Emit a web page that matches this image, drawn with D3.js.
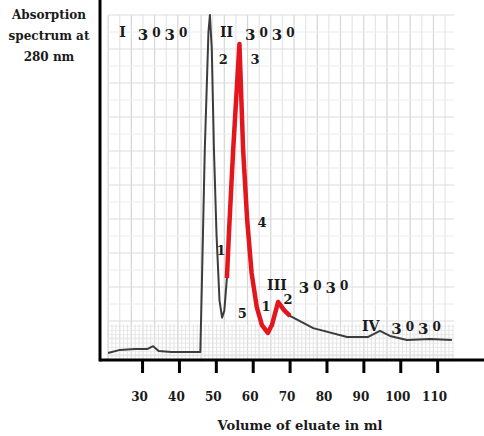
<!DOCTYPE html>
<html>
<head>
<meta charset="utf-8">
<script src="https://cdn.jsdelivr.net/npm/d3@7"></script>
<style>
  html, body { margin: 0; padding: 0; background: #fff; }
  svg { display: block; }
  .lbl { font-family: "DejaVu Serif", "Liberation Serif", serif; font-weight: bold; fill: #1a1a1a; }
</style>
</head>
<body>
<svg id="chart" width="484" height="436"></svg>
<script>
// Elution volume (ml) and absorbance at 280 nm, whole run
const eluateVolume = [20.8, 24, 28, 31.5, 33, 34.5, 38, 42, 45.8, 46.2, 47.0, 48.0, 48.4, 48.9, 49.5, 50.2, 51.0, 51.7, 52.3, 53.0,
  53.6, 54.7, 56.4, 57.4, 58.5, 59.7, 61.1, 62.5, 64.1, 65.2, 66.9, 68.5, 70.1, 76.4, 85.6, 91.3, 94.5, 97.2, 101.8, 108, 114];
const absorbance = [0.006, 0.015, 0.018, 0.018, 0.026, 0.012, 0.009, 0.009, 0.009, 0.2, 0.6, 0.95, 1.0, 0.9, 0.6, 0.35, 0.16, 0.11, 0.13, 0.226,
  0.368, 0.603, 0.915, 0.603, 0.397, 0.241, 0.141, 0.088, 0.065, 0.088, 0.156, 0.132, 0.115, 0.079, 0.053, 0.053, 0.071, 0.056, 0.044, 0.047, 0.044];

// Re-chromatographed fraction (peaks II–III)
const fractionVolume = [53.0, 53.6, 54.7, 56.4, 57.4, 58.5, 59.7, 61.1, 62.5, 64.1, 65.2, 66.9, 68.5, 70.1];
const fractionAbsorbance = [0.226, 0.368, 0.603, 0.915, 0.603, 0.397, 0.241, 0.141, 0.088, 0.065, 0.088, 0.156, 0.132, 0.115];

// Axis ticks
const xTicks = [30, 40, 50, 60, 70, 80, 90, 100, 110];

// Peak names (with sample code) and fraction numbers
const peakName = ["I", "II", "III", "IV"];
const peakCode = ["3030", "3030", "3030", "3030"];
const peakVolume = [23.8, 51.1, 63.9, 89.6];
const peakAbsorbance = [0.935, 0.935, 0.192, 0.071];

const fracText = ["2", "3", "4", "1", "5", "1", "2"];
const fracVolume = [52.0, 60.6, 62.5, 51.4, 57.2, 63.6, 69.6];
const fracAbsorbance = [0.856, 0.856, 0.376, 0.294, 0.109, 0.129, 0.150];

const svg = d3.select("#chart");

const x = d3.scaleLinear().domain([18.6, 122.7]).range([100, 484]);
const y = d3.scaleLinear().domain([0, 1]).range([355, 15]);

// recorder-paper grid
const grid = svg.append("g");
const gx0 = 20.8, gx1 = 114.6;
const vLines = d3.range(gx0, gx1 + 0.01, 3.15);
grid.selectAll("line.v").data(vLines).join("line")
  .attr("x1", d => x(d)).attr("x2", d => x(d))
  .attr("y1", y(1)).attr("y2", y(-0.02))
  .attr("stroke", (d, i) => i % 2 ? "#e6e6e6" : "#d6d6d6").attr("stroke-width", 1.2);
const hLines = d3.range(0, 1.001, 0.05);
grid.selectAll("line.h").data(hLines).join("line")
  .attr("x1", x(gx0)).attr("x2", x(gx1))
  .attr("y1", d => y(d)).attr("y2", d => y(d))
  .attr("stroke", (d, i) => i % 2 ? "#ececec" : "#dcdcdc").attr("stroke-width", 1);
// denser band near the baseline
const bandV = d3.range(gx0, gx1 + 0.01, 1.05);
grid.selectAll("line.bv").data(bandV).join("line")
  .attr("x1", d => x(d)).attr("x2", d => x(d))
  .attr("y1", y(0.09)).attr("y2", y(-0.02))
  .attr("stroke", "#dedede").attr("stroke-width", 0.8);
grid.selectAll("line.bh").data(d3.range(-0.015, 0.09, 0.0125)).join("line")
  .attr("x1", x(gx0)).attr("x2", x(gx1))
  .attr("y1", d => y(d)).attr("y2", d => y(d))
  .attr("stroke", "#e4e4e4").attr("stroke-width", 0.8);

// traces
const line = d3.line().x(d => x(d[0])).y(d => y(d[1]));
svg.append("path")
  .datum(eluateVolume.map((v, i) => [v, absorbance[i]]))
  .attr("d", line)
  .attr("fill", "none").attr("stroke", "#3c3c3c").attr("stroke-width", 2)
  .attr("stroke-linejoin", "round");
svg.append("path")
  .datum(fractionVolume.map((v, i) => [v, fractionAbsorbance[i]]))
  .attr("d", line)
  .attr("fill", "none").attr("stroke", "#e3161e").attr("stroke-width", 4.5)
  .attr("stroke-linejoin", "round");

// axes
const xAxis = svg.append("g").attr("transform", "translate(0,360)")
  .call(d3.axisBottom(x).tickValues(xTicks).tickSize(13).tickSizeOuter(0).tickPadding(19));
xAxis.select(".domain").remove();
xAxis.selectAll(".tick line").attr("stroke", "#000").attr("stroke-width", 3);
xAxis.selectAll(".tick text").attr("class", "lbl").attr("font-size", 12).attr("dx", -3);
svg.append("line").attr("x1", 100).attr("x2", 484).attr("y1", 360).attr("y2", 360)
  .attr("stroke", "#000").attr("stroke-width", 3);
svg.append("line").attr("x1", 100).attr("x2", 100).attr("y1", 0).attr("y2", 361.5)
  .attr("stroke", "#000").attr("stroke-width", 3);

// peak labels: the code is set in old-style figures (small zeros, descending threes)
const peaks = svg.append("g").selectAll("text").data(peakName).join("text")
  .attr("class", "lbl").attr("font-size", 14)
  .attr("x", (d, i) => x(peakVolume[i]))
  .attr("y", (d, i) => y(peakAbsorbance[i]));
peaks.append("tspan").text(d => d);
peaks.each(function (d, i) {
  const t = d3.select(this);
  let shift = 0;
  [...peakCode[i]].forEach((c, k) => {
    const drop = c === "0" ? 0 : 3;
    t.append("tspan")
      .attr("dx", k === 0 ? 12 : 4)
      .attr("dy", drop - shift)
      .attr("font-size", c === "0" ? 12 : 15).text(c);
    shift = drop;
  });
});

// fraction numbers
svg.append("g").selectAll("text").data(fracText).join("text")
  .attr("class", "lbl").attr("font-size", 13)
  .attr("x", (d, i) => x(fracVolume[i]))
  .attr("y", (d, i) => y(fracAbsorbance[i]))
  .attr("text-anchor", "middle")
  .text(d => d);

// axis titles
const yTitle = ["Absorption", "spectrum at", "280 nm"];
svg.append("g").selectAll("text").data(yTitle).join("text")
  .attr("class", "lbl").attr("font-size", 12)
  .attr("x", 49).attr("y", (d, i) => 19 + i * 21)
  .attr("text-anchor", "middle")
  .text(d => d);
svg.append("text").attr("class", "lbl").attr("font-size", 13)
  .attr("x", 300).attr("y", 430).attr("text-anchor", "middle")
  .text("Volume of eluate in ml");
</script>
</body>
</html>
